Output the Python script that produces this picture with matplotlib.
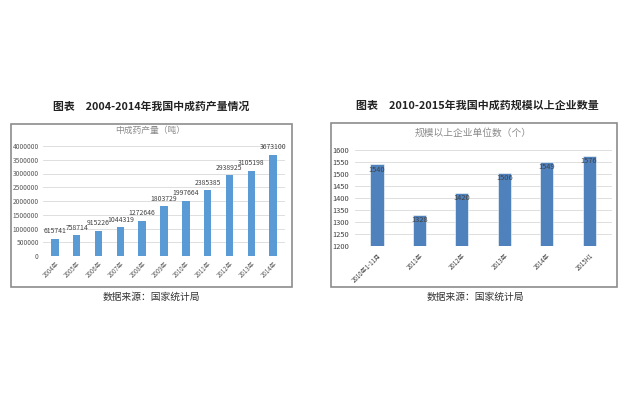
import matplotlib
matplotlib.use("Agg")
import matplotlib.pyplot as plt
from matplotlib.patches import Rectangle

plt.rcParams['font.family'] = ['Noto Sans CJK SC', 'DejaVu Sans']

# Left chart data
years_left = ["2004年", "2005年", "2006年", "2007年", "2008年", "2009年",
              "2010年", "2011年", "2012年", "2013年", "2014年"]
output_tons = [615741, 758714, 915226, 1044319, 1272646, 1803729,
               1997664, 2385385, 2938925, 3105198, 3673100]
left_yticks = [0, 500000, 1000000, 1500000, 2000000, 2500000,
               3000000, 3500000, 4000000]

# Right chart data
periods_right = ["2010年1-11月", "2011年", "2012年", "2013年", "2014年", "2015H1"]
enterprise_counts = [1540, 1328, 1420, 1506, 1549, 1576]
right_yticks = [1200, 1250, 1300, 1350, 1400, 1450, 1500, 1550, 1600]

W, H = 630, 398
fig = plt.figure(figsize=(W / 100, H / 100), dpi=100)
fig.patch.set_facecolor('white')


def fx(px):
    return px / W


def fy(py):
    return 1 - py / H


def add_box(x0, y0, x1, y1):
    fig.patches.append(Rectangle((fx(x0), fy(y1)), fx(x1 - x0), (y1 - y0) / H,
                                 transform=fig.transFigure, fill=False,
                                 edgecolor='#8c8c8c', linewidth=1.2))


def style_axes(ax):
    for s in ax.spines.values():
        s.set_visible(False)
    ax.tick_params(length=0)
    ax.yaxis.grid(True, color='#d9d9d9', linewidth=0.6)
    ax.set_axisbelow(True)


# ---- Left chart ----
add_box(11, 124, 292, 287)
fig.text(fx(151), fy(107), "图表　2004-2014年我国中成药产量情况", ha='center', va='center',
         fontsize=7.8, fontweight='bold', color='#222222')
fig.text(fx(151), fy(297), "数据来源：国家统计局", ha='center', va='center',
         fontsize=7.0, color='#333333')
fig.text(fx(150), fy(130), "中成药产量（吨）", ha='center', va='center',
         fontsize=6.3, color='#8a8a8a')

axL = fig.add_axes([fx(43), fy(256), fx(285 - 43), (256 - 146) / H])
style_axes(axL)
xl = list(range(len(years_left)))
axL.bar(xl, output_tons, width=0.34, color='#5B9BD5')
for x, v in zip(xl, output_tons):
    axL.text(x, v + 130000, str(v), ha='center', va='bottom', fontsize=4.9,
             color='#404040', clip_on=False)
axL.set_xlim(-0.55, 10.55)
axL.set_ylim(0, 4000000)
axL.set_yticks(left_yticks)
axL.set_yticklabels([str(t) for t in left_yticks], fontsize=4.8, color='#595959')
axL.set_xticks(xl)
axL.set_xticklabels(years_left, rotation=45, ha='right', rotation_mode='anchor',
                    fontsize=4.4, color='#595959')
axL.tick_params(axis='x', pad=3)
axL.tick_params(axis='y', pad=3)

# ---- Right chart ----
add_box(331, 123, 617, 287)
fig.text(fx(477), fy(106), "图表　2010-2015年我国中成药规模以上企业数量", ha='center',
         va='center', fontsize=7.9, fontweight='bold', color='#222222')
fig.text(fx(475), fy(297), "数据来源：国家统计局", ha='center', va='center',
         fontsize=7.0, color='#333333')
fig.text(fx(473), fy(133), "规模以上企业单位数（个）", ha='center', va='center',
         fontsize=7.0, color='#8a8a8a')

axR = fig.add_axes([fx(355), fy(246), fx(612 - 355), (246 - 150) / H])
style_axes(axR)
xr = list(range(len(periods_right)))
axR.bar(xr, enterprise_counts, width=0.31, color='#4F81BD', edgecolor='white',
        linewidth=0.4)
for x, v in zip(xr, enterprise_counts):
    axR.text(x, v - 5, str(v), ha='center', va='top', fontsize=5.4,
             color='#404040')
axR.set_xlim(-0.52, 5.54)
axR.set_ylim(1200, 1600)
axR.set_yticks(right_yticks)
axR.set_yticklabels([str(t) for t in right_yticks], fontsize=5.4, color='#404040')
axR.set_xticks(xr)
axR.set_xticklabels(periods_right, rotation=45, ha='right', rotation_mode='anchor',
                    fontsize=4.4, color='#404040')
axR.tick_params(axis='x', pad=4)
axR.tick_params(axis='y', pad=4)

fig.savefig("out.png", dpi=100, facecolor='white')
